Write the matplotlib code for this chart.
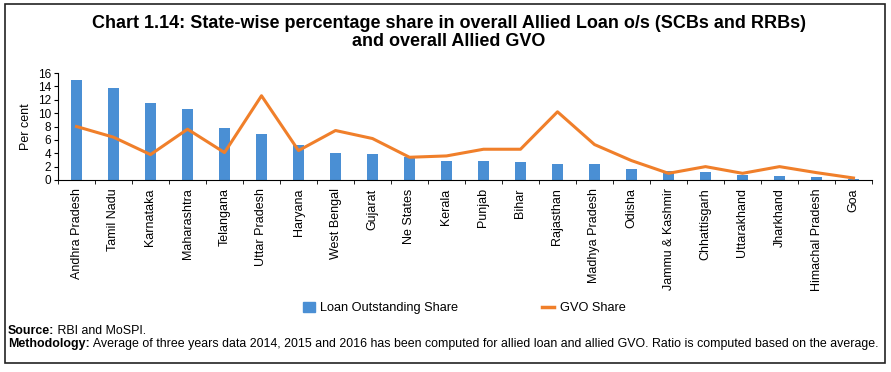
import matplotlib
matplotlib.use("Agg")
import matplotlib.pyplot as plt
import numpy as np
from matplotlib.patches import Rectangle
from matplotlib.lines import Line2D

states = ["Andhra Pradesh", "Tamil Nadu", "Karnataka", "Maharashtra", "Telangana",
          "Uttar Pradesh", "Haryana", "West Bengal", "Gujarat", "Ne States", "Kerala",
          "Punjab", "Bihar", "Rajasthan", "Madhya Pradesh", "Odisha", "Jammu & Kashmir",
          "Chhattisgarh", "Uttarakhand", "Jharkhand", "Himachal Pradesh", "Goa"]
loan_share = [14.9, 13.7, 11.5, 10.6, 7.8, 6.9, 5.2, 4.0, 3.9, 3.4, 2.9,
              2.9, 2.7, 2.4, 2.4, 1.7, 1.4, 1.2, 0.8, 0.6, 0.5, 0.1]
gvo_share = [8.0, 6.4, 3.8, 7.6, 4.1, 12.6, 4.4, 7.4, 6.2, 3.4, 3.6,
             4.6, 4.6, 10.2, 5.3, 2.9, 1.0, 2.0, 1.0, 2.0, 1.1, 0.3]
yticks = [0, 2, 4, 6, 8, 10, 12, 14, 16]

plt.rcParams['font.family'] = ['Liberation Sans', 'DejaVu Sans']

fig = plt.figure(figsize=(8.91, 3.72), dpi=100)
ax = fig.add_axes([58 / 891, 1 - 180 / 372, (872 - 58) / 891, (180 - 73) / 372])

x = np.arange(len(states))
ax.bar(x, loan_share, width=0.32, color='#4a8fd4', label='Loan Outstanding Share', zorder=2)
ax.plot(x, gvo_share, color='#f07f2a', linewidth=2.2, label='GVO Share', zorder=3)

ax.set_xlim(-0.5, len(states) - 0.5)
ax.set_ylim(0, 16)
ax.set_yticks(yticks)
ax.tick_params(axis='y', labelsize=8.5, length=3, pad=2)
ax.set_xticks(x)
ax.set_xticklabels(states, rotation=90, fontsize=9)
ax.set_xticks(np.arange(len(states) + 1) - 0.5, minor=True)
ax.tick_params(axis='x', which='major', length=0, pad=6)
ax.tick_params(axis='x', which='minor', length=3)
ax.spines['top'].set_visible(False)
ax.spines['right'].set_visible(False)
ax.set_ylabel('Per cent', fontsize=9, labelpad=4)

fig.text(449 / 891, 1 - 24 / 372, 'Chart 1.14: State-wise percentage share in overall Allied Loan o/s (SCBs and RRBs)',
         ha='center', va='center', fontsize=13, fontweight='bold')
fig.text(449 / 891, 1 - 42 / 372, 'and overall Allied GVO',
         ha='center', va='center', fontsize=13, fontweight='bold')

handles = [Rectangle((0, 0), 1, 1, color='#4a8fd4'),
           Line2D([0], [0], color='#f07f2a', linewidth=2.5)]
fig.legend(handles, ['Loan Outstanding Share', 'GVO Share'], loc='center',
           bbox_to_anchor=(464 / 891, 1 - 308 / 372), ncol=2, frameon=False,
           fontsize=9.2, handlelength=1.0, handleheight=0.9, columnspacing=6.5, handletextpad=0.4)

# footnotes: bold lead word, then the regular text placed right after it
notes = [('Source:', ' RBI and MoSPI.', 334),
         ('Methodology:', ' Average of three years data 2014, 2015 and 2016 has been computed '
                          'for allied loan and allied GVO. Ratio is computed based on the average.', 347)]
fig.canvas.draw()
r = fig.canvas.get_renderer()
for lead, rest, ypix in notes:
    t = fig.text(8 / 891, 1 - ypix / 372, lead, fontsize=8.9, va='baseline', fontweight='bold')
    bb = t.get_window_extent(r)
    fig.text(bb.x1 / fig.bbox.width, 1 - ypix / 372, rest, fontsize=8.9, va='baseline')

border = Rectangle((5 / 891, 9 / 372), 880 / 891, 359 / 372, transform=fig.transFigure,
                   fill=False, edgecolor='#222222', linewidth=1.2)
fig.add_artist(border)

fig.savefig('out.png', dpi=100)
